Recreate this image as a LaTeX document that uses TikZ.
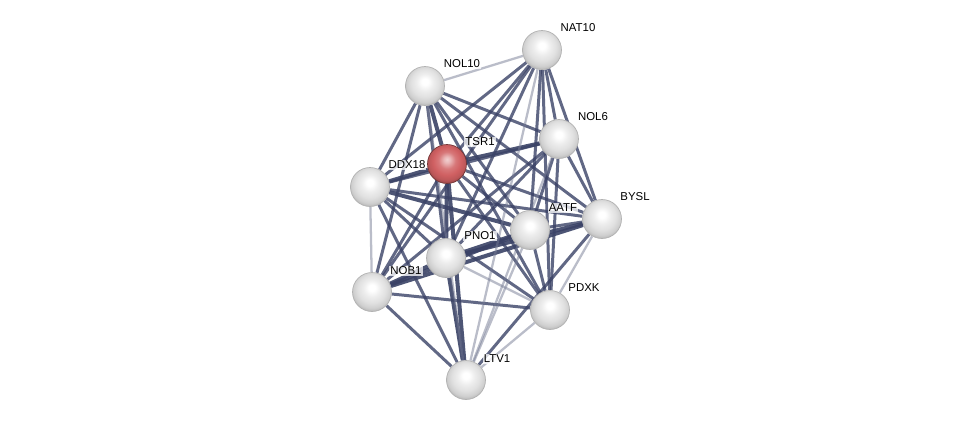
\documentclass[tikz,border=0pt]{standalone}
\usepackage{fontspec}
\setmainfont{Liberation Sans}
\usetikzlibrary{backgrounds}
\definecolor{edgeblue}{RGB}{58,66,102}
\definecolor{tsrred}{RGB}{208,96,98}
\pgfdeclareradialshading{bead}{\pgfpoint{0bp}{6bp}}{color(0bp)=(white); color(4bp)=(white); color(11bp)=(gray!14); color(18bp)=(gray!24); color(24bp)=(gray!38); color(28bp)=(gray!58); color(32bp)=(gray!70); color(50bp)=(gray!70)}
\pgfdeclareradialshading{redbead}{\pgfpoint{0bp}{6bp}}{color(0bp)=(tsrred!30!white); color(4bp)=(tsrred!45!white); color(11bp)=(tsrred!85!white); color(18bp)=(tsrred); color(24bp)=(tsrred!90!black); color(28bp)=(tsrred!70!black); color(32bp)=(tsrred!55!black); color(50bp)=(tsrred!55!black)}

\begin{document}
\begin{tikzpicture}[x=0.2mm, y=-0.2mm, font=\fontsize{6.5}{7}\selectfont,
  prot/.style={circle, minimum size=7.8mm, inner sep=0pt, shading=bead, draw=gray!60, thin},
  query/.style={prot, shading=redbead, draw=tsrred!55!black},
  lbl/.style={inner sep=0.6pt, fill=white, fill opacity=0.75, text opacity=1},
  link/.style={draw=edgeblue, line width=1.7pt, opacity=0.8},
  strong/.style={draw=edgeblue, line width=2.3pt, opacity=0.9},
  faint/.style={draw=edgeblue!70, line width=1.3pt, opacity=0.5}]
\useasboundingbox (0,0) rectangle (976,426);
% proteins
\node[prot] (NAT10) at (542,50) {};
\node[prot] (NOL10) at (425,86) {};
\node[prot] (NOL6) at (559,139) {};
\node[query] (TSR1) at (447,164) {};
\node[prot] (DDX18) at (370,187) {};
\node[prot] (BYSL) at (602,219) {};
\node[prot] (AATF) at (530,230) {};
\node[prot] (PNO1) at (446,258) {};
\node[prot] (NOB1) at (372,292) {};
\node[prot] (PDXK) at (550,310) {};
\node[prot] (LTV1) at (466,380) {};
% names
\node[lbl] (NAT10-l) at (578,28) {NAT10};
\node[lbl] (NOL10-l) at (462,64) {NOL10};
\node[lbl] (NOL6-l) at (593,117) {NOL6};
\node[lbl] (TSR1-l) at (480,142) {TSR1};
\node[lbl] (DDX18-l) at (407,165) {DDX18};
\node[lbl] (BYSL-l) at (635,197) {BYSL};
\node[lbl] (AATF-l) at (563,208) {AATF};
\node[lbl] (PNO1-l) at (480,236) {PNO1};
\node[lbl] (NOB1-l) at (406,271) {NOB1};
\node[lbl] (PDXK-l) at (584,288) {PDXK};
\node[lbl] (LTV1-l) at (497,359) {LTV1};
% interactions
\begin{scope}[on background layer]
\foreach \a/\b in {TSR1/DDX18, TSR1/NOL6, TSR1/PNO1, NOL10/TSR1, PNO1/LTV1, PNO1/AATF, PNO1/BYSL, NOB1/BYSL, NOB1/AATF, NOB1/PNO1, DDX18/AATF, TSR1/LTV1}
  \draw[strong] (\a) -- (\b);
\foreach \a/\b in {NAT10/DDX18, NAT10/TSR1, NAT10/NOL6, NAT10/BYSL, NAT10/AATF, NAT10/PNO1, NAT10/NOB1, NAT10/PDXK,
  NOL10/NOL6, NOL10/DDX18, NOL10/BYSL, NOL10/AATF, NOL10/PNO1, NOL10/NOB1, NOL10/PDXK,
  NOL6/DDX18, NOL6/BYSL, NOL6/AATF, NOL6/PNO1, NOL6/NOB1, NOL6/PDXK,
  TSR1/BYSL, TSR1/AATF, TSR1/NOB1, TSR1/PDXK,
  DDX18/BYSL, DDX18/PNO1, DDX18/PDXK, DDX18/LTV1,
  BYSL/AATF, BYSL/LTV1, AATF/PDXK, NOB1/PDXK, NOB1/LTV1}
  \draw[link] (\a) -- (\b);
\foreach \a/\b in {NAT10/NOL10, NAT10/LTV1, NOL10/LTV1, NOL6/LTV1, DDX18/NOB1, BYSL/PDXK, AATF/LTV1, PNO1/PDXK, PDXK/LTV1}
  \draw[faint] (\a) -- (\b);
\end{scope}
\end{tikzpicture}
\end{document}
